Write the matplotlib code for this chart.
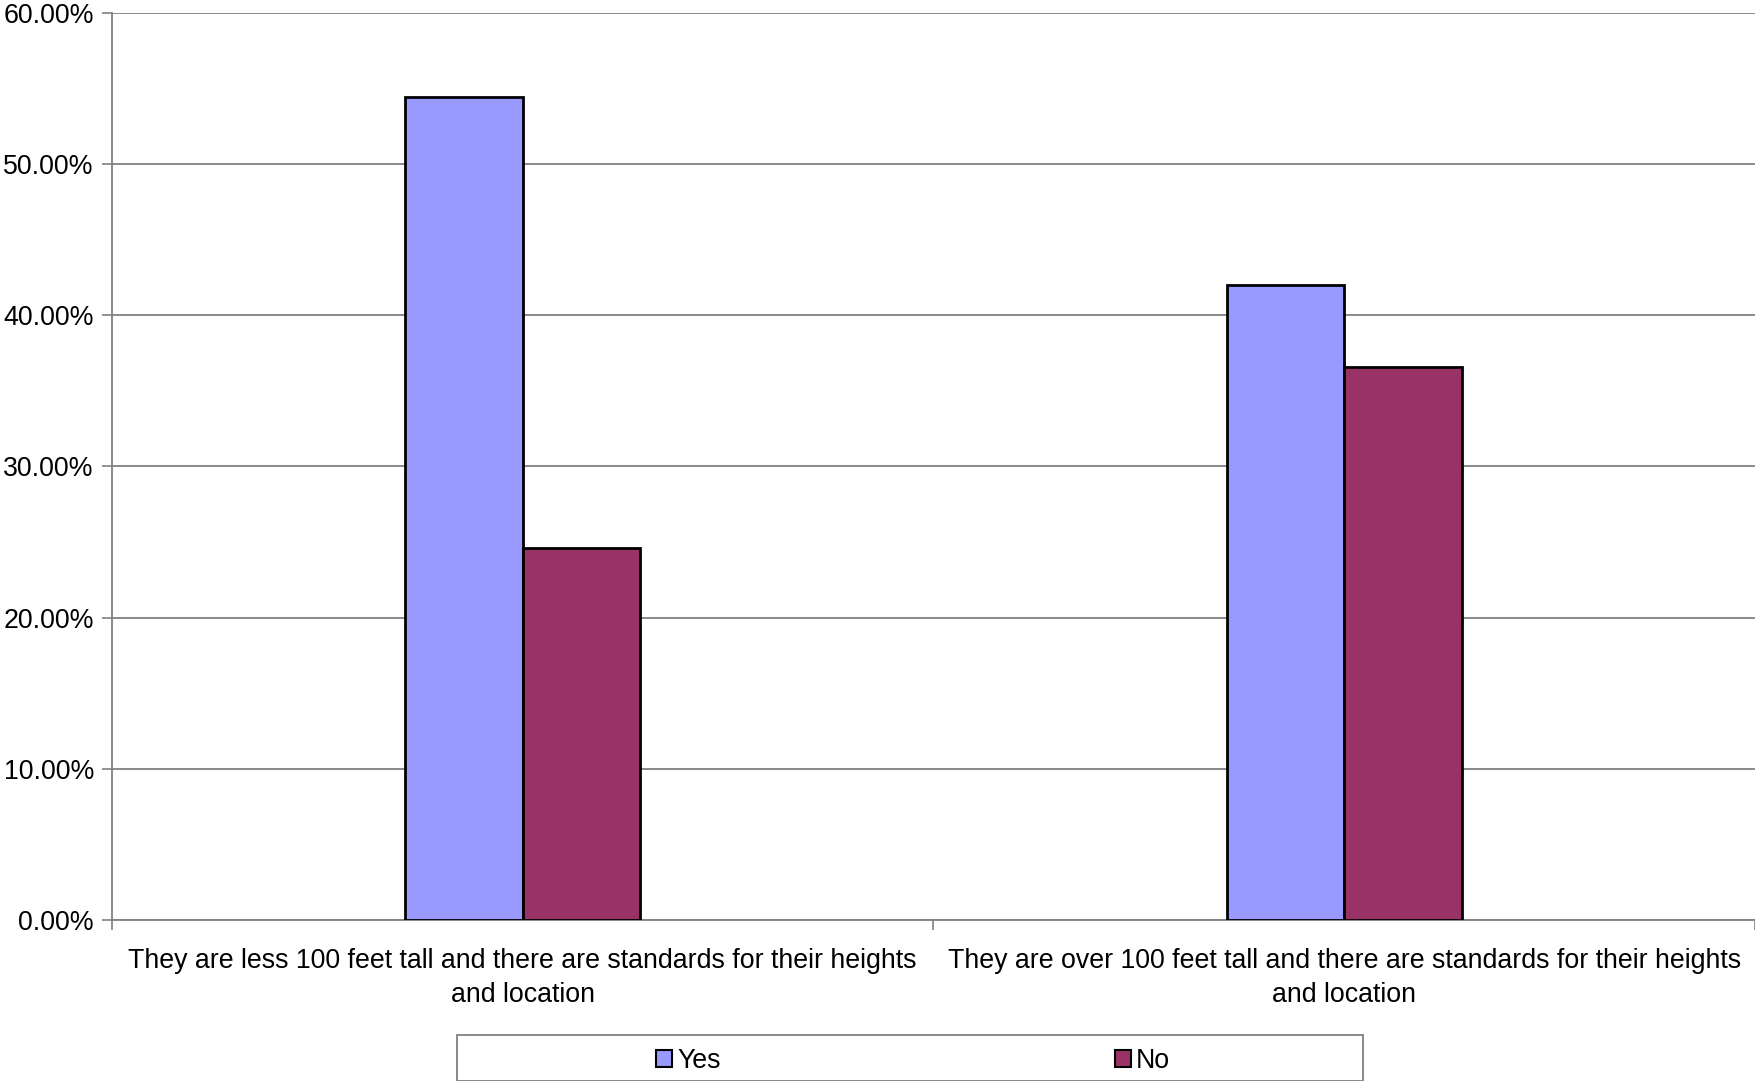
import matplotlib.pyplot as plt
import matplotlib.ticker as mticker
from matplotlib.patches import Rectangle
import numpy as np

plt.rcParams["font.family"] = ["Liberation Sans", "DejaVu Sans"]

categories = [
    "They are less 100 feet tall and there are standards for their heights\nand location",
    "They are over 100 feet tall and there are standards for their heights\nand location",
]
yes_vals = [54.44, 42.0]
no_vals = [24.59, 36.59]
yticks = [0, 10, 20, 30, 40, 50, 60]

colors = {"Yes": "#9999FF", "No": "#993366"}
grey = "#808080"
fs = 19.3

fig = plt.figure(figsize=(17.55, 10.81), dpi=100)
ax = fig.add_axes([0.0638, 0.149, 0.9362, 0.839])

x = np.arange(len(categories))
w = 0.143
ax.bar(x - w / 2, yes_vals, w, color=colors["Yes"], edgecolor="black", linewidth=2, label="Yes", zorder=3)
ax.bar(x + w / 2, no_vals, w, color=colors["No"], edgecolor="black", linewidth=2, label="No", zorder=3)

ax.set_xlim(-0.5, len(categories) - 0.5)
ax.set_ylim(0, 60)
ax.set_yticks(yticks)
ax.yaxis.set_major_formatter(mticker.FuncFormatter(lambda v, _: f"{v:.2f}%"))
ax.yaxis.grid(True, color=grey, linewidth=1.3, zorder=0)

ax.set_xticks(x)
ax.set_xticklabels(categories, fontsize=fs, linespacing=1.4)
ax.set_xticks(np.arange(len(categories) + 1) - 0.5, minor=True)
ax.tick_params(axis="x", which="major", length=0, pad=20)
ax.tick_params(axis="x", which="minor", length=7, color=grey, width=1.2)
ax.tick_params(axis="y", length=7, color=grey, width=1.2, labelsize=fs, pad=6)

for s in ["top", "right"]:
    ax.spines[s].set_visible(False)
for s in ["left", "bottom"]:
    ax.spines[s].set_color(grey)
    ax.spines[s].set_linewidth(1.3)

# legend box
fig.patches.append(Rectangle((457 / 1755, 0.0), (1363 - 457) / 1755, 46 / 1081,
                             transform=fig.transFigure, facecolor="white",
                             edgecolor=grey, linewidth=1.3))
leg = fig.legend(loc="center", bbox_to_anchor=(913 / 1755, 20 / 1081), ncol=2,
                 frameon=False, fontsize=fs, handlelength=0.6, handleheight=0.6,
                 handletextpad=0.2, columnspacing=14.7)
for h in leg.legend_handles:
    h.set_linewidth(1.5)

fig.savefig("out.png", dpi=100)
